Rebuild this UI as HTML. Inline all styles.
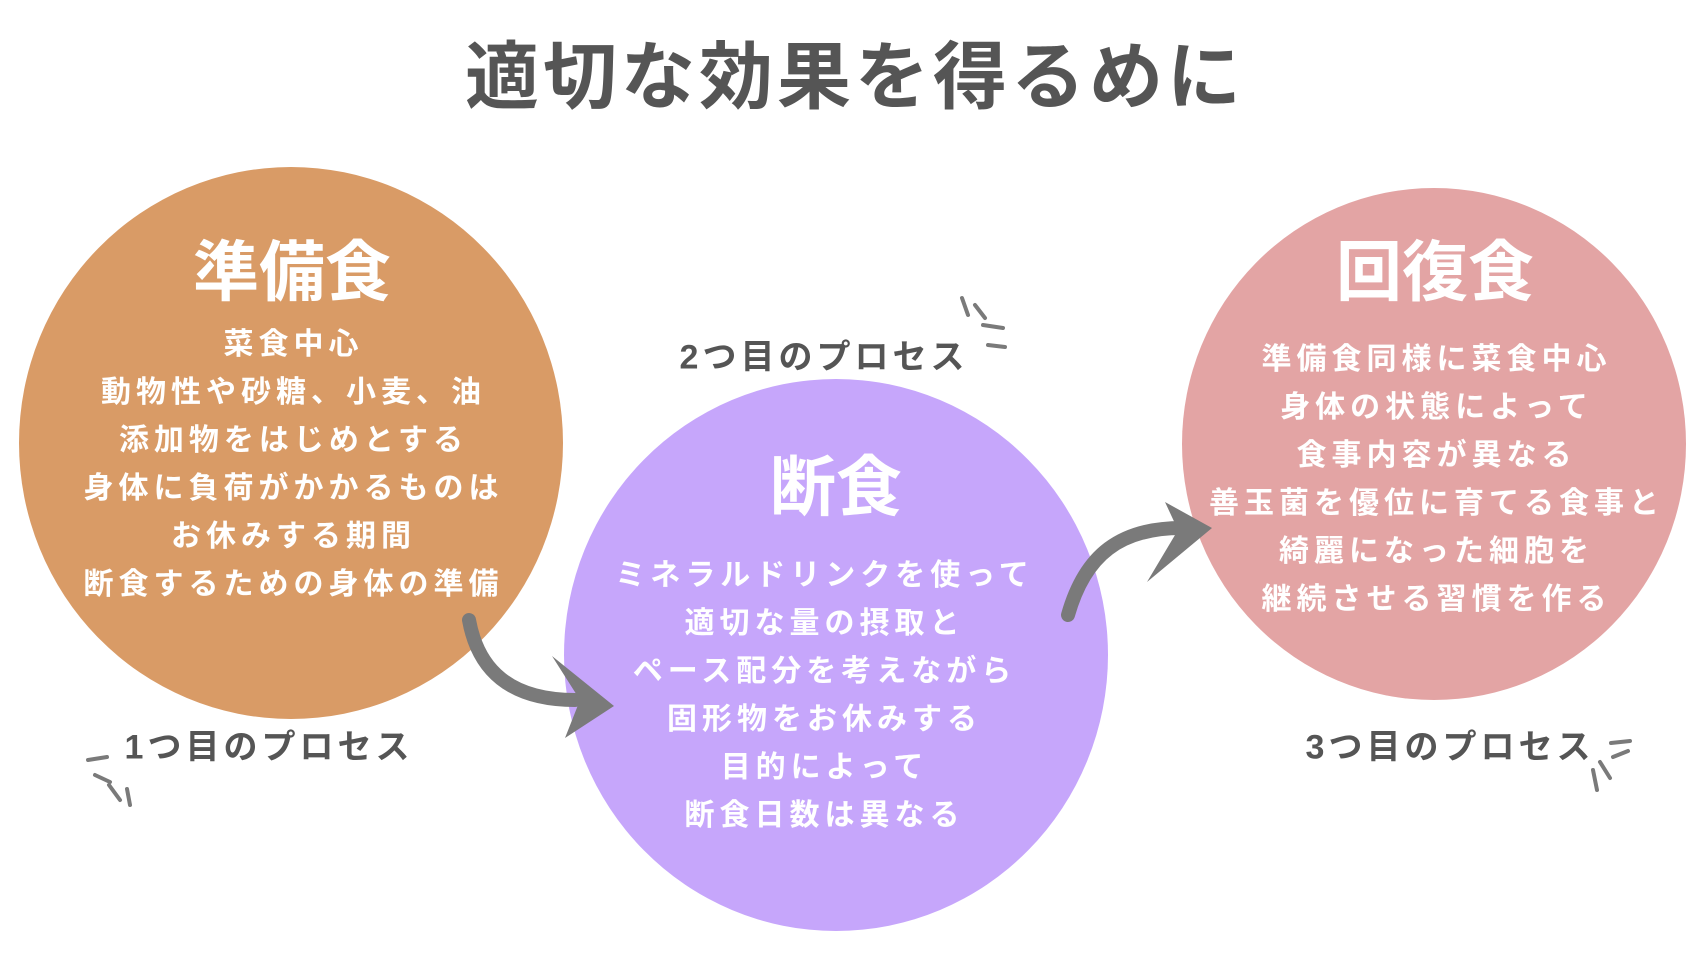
<!DOCTYPE html>
<html><head><meta charset="utf-8"><style>
html,body{margin:0;padding:0;background:#fff;}
body{width:1707px;height:960px;position:relative;overflow:hidden;font-family:"Liberation Sans","Noto Sans CJK JP",sans-serif;font-weight:bold;}
.t{position:absolute;transform:translate(-50%,-50%);white-space:nowrap;text-align:center;}
.w{color:#fff;}
.g{color:#555;}
.b{letter-spacing:5px;padding-left:5px;}
.l{letter-spacing:4px;padding-left:4px;}
svg{position:absolute;left:0;top:0;}
</style></head><body>
<svg width="1707" height="960">
<ellipse cx="291" cy="443" rx="272" ry="276" fill="#d99b66"/>
<ellipse cx="836" cy="655" rx="272" ry="276" fill="#c6a6fb"/>
<ellipse cx="1434" cy="444" rx="252" ry="256" fill="#e3a4a4"/>
<g fill="none" stroke="#7a7a7a" stroke-linecap="round">
<path d="M469 620 C478 670 510 700 575 700" stroke-width="14"/>
<path d="M1068 615 C1085 555 1120 527 1185 528" stroke-width="14"/>
<g stroke-width="4">
<path d="M962 298 L968 315"/><path d="M975 305 L985 318"/><path d="M983 325 L1003 328"/><path d="M988 345 L1005 347"/>
<path d="M88 760 L107 757"/><path d="M95 775 L110 782"/><path d="M109 785 L120 800"/><path d="M127 789 L130 805"/>
<path d="M1611 743 L1630 741"/><path d="M1613 757 L1628 751"/><path d="M1600 762 L1610 778"/><path d="M1593 770 L1597 790"/>
</g></g>
<polygon points="552,656 614,706 565,738 580,700" fill="#7a7a7a"/>
<polygon points="1165,502 1212,528 1147,582 1178,530" fill="#7a7a7a"/>
</svg>
<div class="t g" style="left:853px;top:71px;font-size:74px;letter-spacing:4px;padding-left:4px;">適切な効果を得るめに</div>
<div class="t w" style="left:292px;top:267px;font-size:66px;">準備食</div>
<div class="t w b" style="left:291px;top:345px;font-size:30px;line-height:48px;transform:translate(-50%,-24px);">菜食中心<br>動物性や砂糖、小麦、油<br>添加物をはじめとする<br>身体に負荷がかかるものは<br>お休みする期間<br>断食するための身体の準備</div>
<div class="t w" style="left:836px;top:482px;font-size:66px;">断食</div>
<div class="t w b" style="left:822px;top:576px;font-size:30px;line-height:48px;transform:translate(-50%,-24px);">ミネラルドリンクを使って<br>適切な量の摂取と<br>ペース配分を考えながら<br>固形物をお休みする<br>目的によって<br>断食日数は異なる</div>
<div class="t w" style="left:1435px;top:267px;font-size:66px;">回復食</div>
<div class="t w b" style="left:1434px;top:360px;font-size:30px;line-height:48px;transform:translate(-50%,-24px);">準備食同様に菜食中心<br>身体の状態によって<br>食事内容が異なる<br>善玉菌を優位に育てる食事と<br>綺麗になった細胞を<br>継続させる習慣を作る</div>
<div class="t g l" style="left:267px;top:744px;font-size:34px;">1つ目のプロセス</div>
<div class="t g l" style="left:822px;top:354px;font-size:34px;">2つ目のプロセス</div>
<div class="t g l" style="left:1448px;top:744px;font-size:34px;">3つ目のプロセス</div>
</body></html>
